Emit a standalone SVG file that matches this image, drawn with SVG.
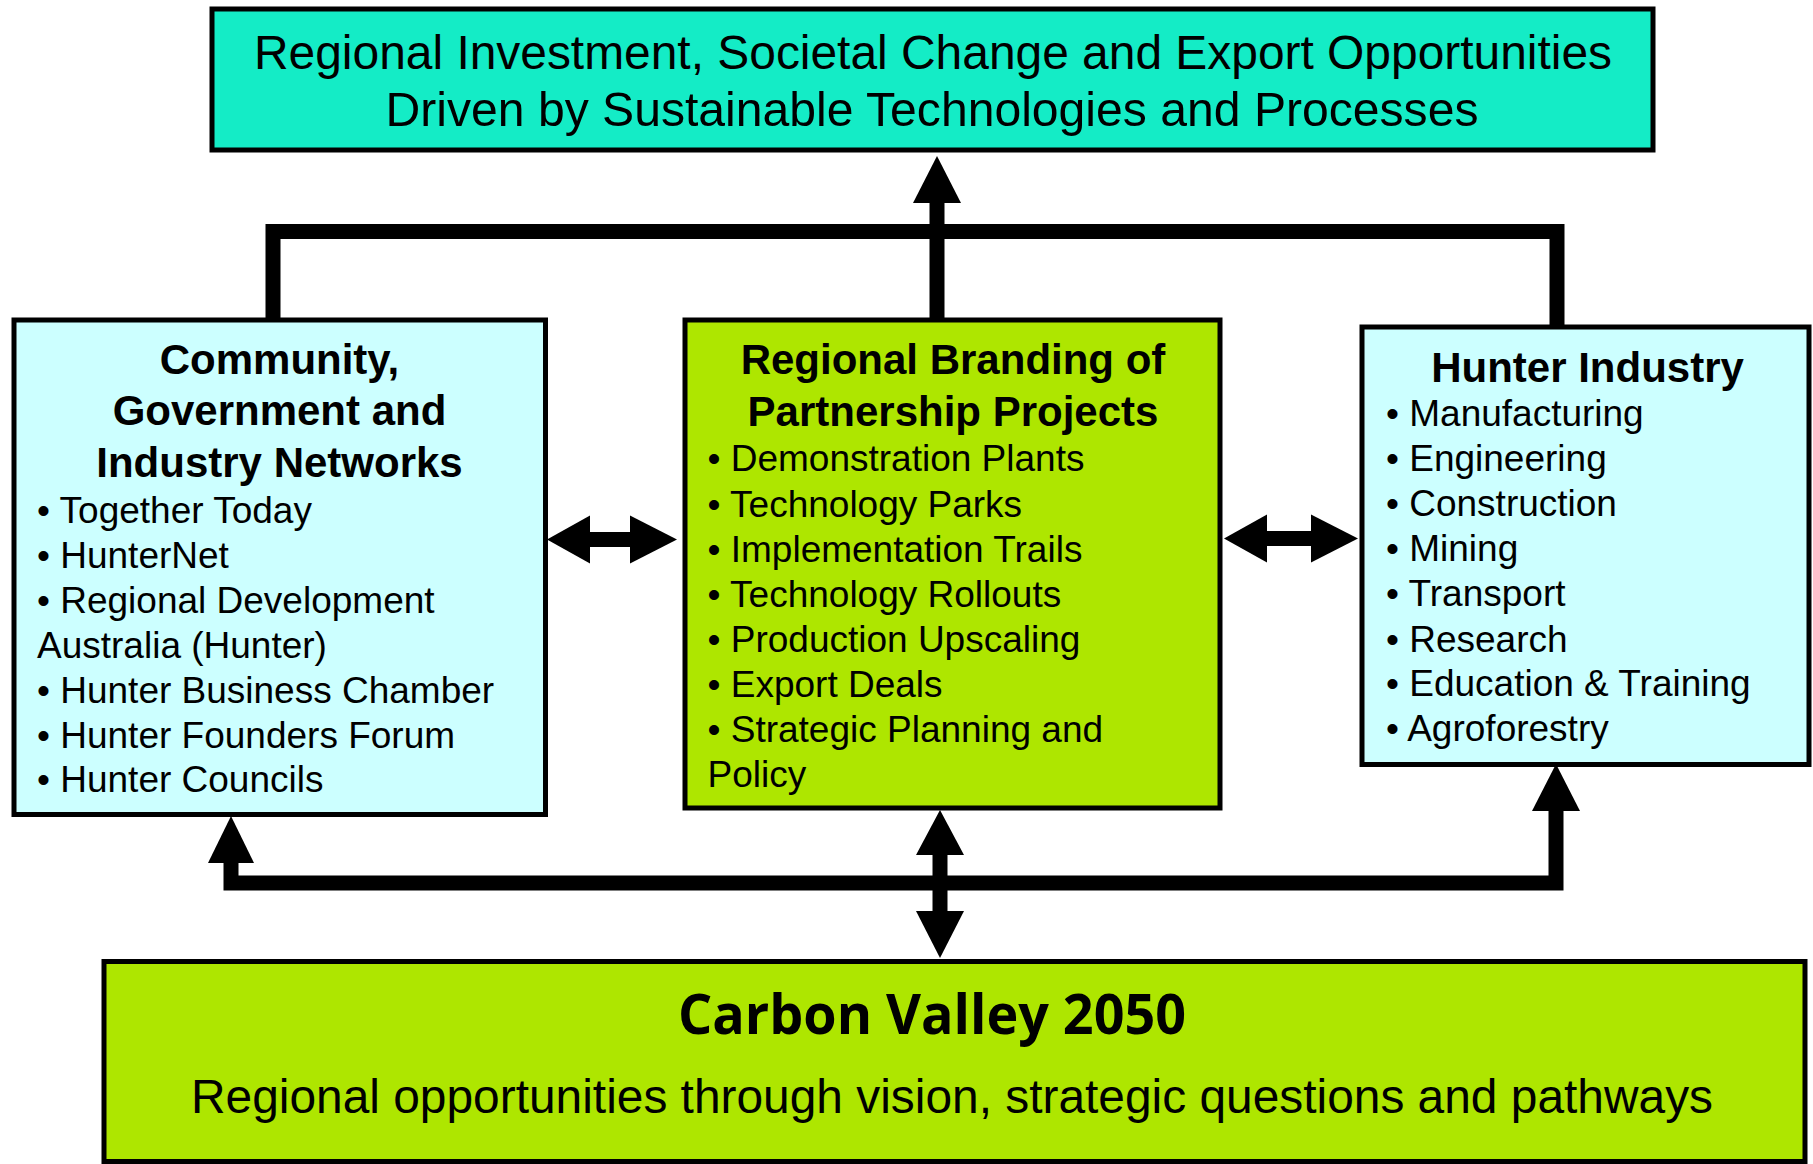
<svg xmlns="http://www.w3.org/2000/svg" width="1813" height="1164" viewBox="0 0 1813 1164">
<style>
.box{stroke:#000;stroke-width:5}
.teal{fill:#14ECC6}
.cyan{fill:#CCFFFF}
.green{fill:#AEE600}
.t{font-family:"Liberation Sans",Arial,Helvetica,sans-serif;fill:#000}
.big{font-size:48px}
.ttl{font-size:42px;font-weight:bold}
.bl{font-size:37px}
.cv{font-family:"Open Sans","Noto Sans","Liberation Sans",sans-serif;font-size:56px;font-weight:bold;fill:#000}
.ln{fill:none;stroke:#000;stroke-width:15;stroke-linejoin:miter;stroke-linecap:butt}
.hd{fill:#000;stroke:none}
</style>
<rect width="1813" height="1164" fill="#fff"/>
<g id="connectors">
  <path class="ln" d="M273 320 V231.5 H1557 V327"/>
  <path class="ln" d="M937 320 V200"/>
  <polygon class="hd" points="937,156 913,203 961,203"/>
  <path class="ln" d="M231 860 V883 H1556 V808"/>
  <polygon class="hd" points="231,816 208,863 254,863"/>
  <polygon class="hd" points="1556,764 1532,811 1580,811"/>
  <path class="ln" d="M940 852 V914"/>
  <polygon class="hd" points="940,810 916,855 964,855"/>
  <polygon class="hd" points="940,958 916,911 964,911"/>
  <path class="ln" d="M587 539.5 H633"/>
  <polygon class="hd" points="547,539.5 590,515.5 590,563.5"/>
  <polygon class="hd" points="677,539.5 630,515.5 630,563.5"/>
  <path class="ln" d="M1264 538.5 H1314"/>
  <polygon class="hd" points="1224,538.5 1267,514.5 1267,562.5"/>
  <polygon class="hd" points="1358,538.5 1311,514.5 1311,562.5"/>
</g>
<g id="node-outcome">
  <rect class="box teal" x="212" y="9" width="1441" height="141"/>
  <text class="t big" x="933" y="68.5" text-anchor="middle" textLength="1358" lengthAdjust="spacingAndGlyphs">Regional Investment, Societal Change and Export Opportunities</text>
  <text class="t big" x="932" y="125.5" text-anchor="middle" textLength="1093" lengthAdjust="spacingAndGlyphs">Driven by Sustainable Technologies and Processes</text>
</g>
<g id="node-networks">
  <rect class="box cyan" x="14" y="320" width="531.5" height="494.5"/>
  <text class="t ttl" x="279.5" y="373.5" text-anchor="middle">Community,</text>
  <text class="t ttl" x="279.5" y="425" text-anchor="middle">Government and</text>
  <text class="t ttl" x="279.5" y="476.5" text-anchor="middle">Industry Networks</text>
  <text class="t bl" x="37" y="522.5">• Together Today</text>
  <text class="t bl" x="37" y="567.5">• HunterNet</text>
  <text class="t bl" x="37" y="612.5">• Regional Development</text>
  <text class="t bl" x="37" y="657.5">Australia (Hunter)</text>
  <text class="t bl" x="37" y="702.5">• Hunter Business Chamber</text>
  <text class="t bl" x="37" y="747.5">• Hunter Founders Forum</text>
  <text class="t bl" x="37" y="792">• Hunter Councils</text>
</g>
<g id="node-branding">
  <rect class="box green" x="685" y="320" width="535" height="488"/>
  <text class="t ttl" x="953" y="374" text-anchor="middle">Regional Branding of</text>
  <text class="t ttl" x="953" y="426" text-anchor="middle">Partnership Projects</text>
  <text class="t bl" x="707.5" y="471">• Demonstration Plants</text>
  <text class="t bl" x="707.5" y="516.5">• Technology Parks</text>
  <text class="t bl" x="707.5" y="561.5">• Implementation Trails</text>
  <text class="t bl" x="707.5" y="606.5">• Technology Rollouts</text>
  <text class="t bl" x="707.5" y="651.5">• Production Upscaling</text>
  <text class="t bl" x="707.5" y="696.5">• Export Deals</text>
  <text class="t bl" x="707.5" y="741.5">• Strategic Planning and</text>
  <text class="t bl" x="707.5" y="786.5">Policy</text>
</g>
<g id="node-industry">
  <rect class="box cyan" x="1362" y="327" width="447" height="437.5"/>
  <text class="t ttl" x="1587.5" y="381.5" text-anchor="middle">Hunter Industry</text>
  <text class="t bl" x="1386" y="426">• Manufacturing</text>
  <text class="t bl" x="1386" y="471">• Engineering</text>
  <text class="t bl" x="1386" y="516">• Construction</text>
  <text class="t bl" x="1386" y="561">• Mining</text>
  <text class="t bl" x="1386" y="606">• Transport</text>
  <text class="t bl" x="1386" y="651.5">• Research</text>
  <text class="t bl" x="1386" y="696">• Education &amp; Training</text>
  <text class="t bl" x="1386" y="741">• Agroforestry</text>
</g>
<g id="node-carbon-valley">
  <rect class="box green" x="104" y="961.5" width="1701" height="200"/>
  <text class="cv" x="932" y="1034" text-anchor="middle" textLength="508" lengthAdjust="spacingAndGlyphs">Carbon Valley 2050</text>
  <text class="t big" x="952" y="1113" text-anchor="middle" textLength="1522" lengthAdjust="spacingAndGlyphs">Regional opportunities through vision, strategic questions and pathways</text>
</g>
</svg>
